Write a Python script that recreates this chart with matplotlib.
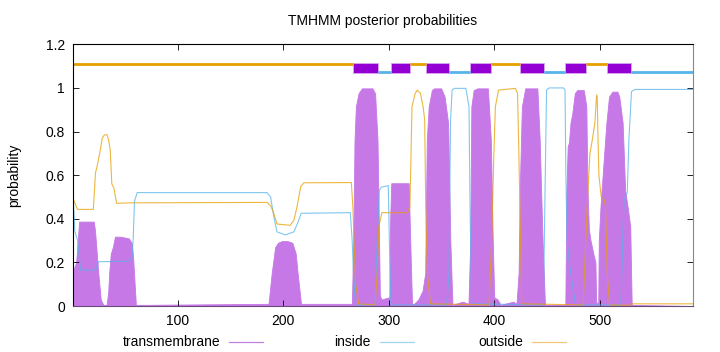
'''TMHMM posterior probabilities'''

import matplotlib
matplotlib.use('Agg')
from matplotlib.pyplot import figure
from matplotlib.lines import Line2D
from matplotlib.ticker import FuncFormatter
import numpy as np

matplotlib.rcParams['font.family'] = ['Liberation Sans', 'DejaVu Sans']
matplotlib.rcParams['font.size'] = 10

seq_length = 588

# predicted topology, residue ranges
seg_start = [1, 266, 290, 302, 320, 335, 357, 377, 397, 424, 447, 467, 487, 507, 530]
seg_end   = [266, 290, 302, 320, 335, 357, 377, 397, 424, 447, 467, 487, 507, 530, 588]
seg_kind  = ['outside', 'TM', 'inside', 'TM', 'outside', 'TM', 'inside', 'TM',
             'outside', 'TM', 'inside', 'TM', 'outside', 'TM', 'inside']

# posterior probabilities
tm_pos = [1, 3.7, 5.2, 6.5, 20.3, 21.5, 22.8, 24.7, 27, 29.5, 32.5, 34, 35, 36.5, 38.5,
          40.5, 45.7, 53.6, 56.3, 57.6, 60.3,
          186, 189, 192.3, 195, 198.9, 203.7, 208.6, 211.8, 213.6, 216.8,
          265, 266.4, 267.5, 268.8, 271.3, 274.5, 284.5, 287, 289.3, 290.5, 291.5, 293,
          300.5, 301.3, 302.3, 318.8, 320.3, 322,
          324, 328, 332, 334.5, 336, 337.8, 340.8, 343, 349.6, 352.9, 356.2, 358.3, 360.3,
          370, 375.5, 377.2, 378.2, 380.4, 384, 393.9, 396.7, 398.5, 399.9, 403, 406,
          418, 421, 423, 424.5, 426.1, 429.3, 440.8, 443, 445.7, 448,
          467.3, 468.3, 469.5, 470.7, 472.2, 473.8, 476.3, 478.5, 484.8, 487.2, 488.2, 489.6,
          491.2, 494.3, 495.8, 496.5, 498,
          498.5, 499, 500.6, 503.9, 506.2, 508.7, 511.9, 516.6, 518.4, 521.6, 524,
          526.3, 528.8, 530.2, 588]
tm_prob = [0.165, 0.2, 0.30, 0.387, 0.387, 0.35, 0.27, 0.15, 0.03, 0.005, 0.005, 0.058, 0.15, 0.24, 0.27,
           0.318, 0.318, 0.31, 0.29, 0.23, 0.005,
           0.01, 0.15, 0.27, 0.29, 0.298, 0.298, 0.29, 0.24, 0.15, 0.01,
           0.01, 0.30, 0.76, 0.914, 0.975, 0.998, 0.998, 0.975, 0.76, 0.39, 0.05, 0.03,
           0.04, 0.4, 0.563, 0.563, 0.3, 0.01,
           0.01, 0.03, 0.07, 0.15, 0.76, 0.914, 0.99, 0.998, 0.998, 0.96, 0.84, 0.3, 0.005,
           0.02, 0.01, 0.3, 0.914, 0.99, 0.998, 0.998, 0.76, 0.3, 0.04, 0.03, 0.005,
           0.02, 0.01, 0.15, 0.61, 0.914, 0.998, 0.998, 0.76, 0.3, 0.005,
           0.005, 0.52, 0.73, 0.75, 0.84, 0.88, 0.976, 0.99, 0.99, 0.914, 0.55, 0.35,
           0.3, 0.23, 0.2, 0.02, 0.005,
           0.02, 0.30, 0.455, 0.685, 0.84, 0.96, 0.983, 0.983, 0.96, 0.84, 0.53,
           0.455, 0.365, 0.005, 0.0]

inside_pos = [1, 2.5, 5.2, 7.8, 22, 25, 53.5, 56.5, 57.7, 59, 61.5,
              184.5, 188, 191, 194, 202, 210, 214, 217, 263.5, 265.3, 266.5, 268.5,
              287, 289, 291, 293, 299.5, 300.5, 302,
              355, 357, 358.5, 360, 362, 373, 376, 377, 378.5,
              446.5, 448, 449.5, 452, 465.5, 467, 467.8, 469, 471, 474, 477,
              520, 522, 523, 526, 527.5, 530, 533, 588]
inside_prob = [0.49, 0.34, 0.30, 0.165, 0.165, 0.203, 0.205, 0.22, 0.30, 0.48, 0.52,
               0.52, 0.50, 0.41, 0.34, 0.326, 0.34, 0.385, 0.425, 0.428, 0.30, 0.15, 0.005,
               0.005, 0.3, 0.53, 0.545, 0.552, 0.3, 0.005,
               0.005, 0.15, 0.85, 0.99, 0.998, 0.998, 0.914, 0.455, 0.01,
               0.005, 0.5, 0.99, 1.0, 1.0, 0.99, 0.6, 0.3, 0.2, 0.1, 0.005,
               0.005, 0.35, 0.486, 0.52, 0.76, 0.983, 0.993, 0.993]

outside_pos = [1, 5, 20, 22, 23.5, 26, 28.5, 30.5, 33, 34.5, 36, 37.5, 39.5, 42, 55,
               184.5, 188, 191, 194, 206.5, 210, 213, 216.5, 219.5, 264.5, 266, 268.5, 271.5,
               287, 289, 290.5, 293.5, 317.5, 320, 322, 325, 327, 330, 332.5, 334, 335,
               336.5, 339.5, 395, 397.5, 399.5, 401, 404, 420, 422, 423, 426,
               484.2, 488, 490.6, 492.8, 495.3, 496.9, 497.5, 498.2, 499.1, 501.3, 503.9,
               505.4, 507, 509.2, 528, 530, 588]
outside_prob = [0.49, 0.443, 0.443, 0.61, 0.64, 0.70, 0.77, 0.785, 0.785, 0.76, 0.715, 0.56, 0.54, 0.471, 0.473,
                0.475, 0.46, 0.425, 0.376, 0.37, 0.393, 0.455, 0.547, 0.565, 0.566, 0.45, 0.10, 0.01,
                0.005, 0.15, 0.364, 0.428, 0.428, 0.455, 0.914, 0.975, 0.99, 0.975, 0.914, 0.853, 0.455,
                0.15, 0.01, 0.005, 0.3, 0.685, 0.914, 0.99, 0.998, 0.975, 0.76, 0.01,
                0.005, 0.455, 0.70, 0.76, 0.84, 0.968, 0.96, 0.78, 0.6, 0.50, 0.49,
                0.455, 0.15, 0.005, 0.003, 0.01, 0.01]

c_tm_fill = '#c678e6'
c_tm_bar = '#9400d3'
c_in = '#56b4e9'
c_out = '#e69f00'

fig = figure(figsize=(7.2, 3.52), dpi=100)
ax = fig.add_axes([73.3/720, 1 - 306/352, (692.7 - 73.3)/720, (306 - 44.3)/352])

ax.fill_between(tm_pos, tm_prob, 0, color=c_tm_fill, lw=0.6)
ax.plot(inside_pos, inside_prob, color=c_in, lw=0.8, alpha=0.75)
ax.plot(outside_pos, outside_prob, color=c_out, lw=0.8, alpha=0.75)

# topology bars on top
for s, e, k in zip(seg_start, seg_end, seg_kind):
    if k == 'outside':
        ax.hlines(1.11, s, e, color=c_out, lw=2)
    elif k == 'inside':
        ax.hlines(1.071, s, e, color=c_in, lw=2)
    else:
        ax.broken_barh([(s, e - s)], (1.068, 0.047), facecolor=c_tm_bar,
                       edgecolor='#d8a8f0', lw=0.6)

ax.set_xlim(1, seq_length)
ax.set_ylim(0, 1.2)
ax.set_xticks([100, 200, 300, 400, 500])
ax.set_yticks(np.arange(0, 1.21, 0.2))
ax.yaxis.set_major_formatter(FuncFormatter(lambda v, _: '%g' % round(v, 2)))
ax.tick_params(direction='in', top=True, right=True, length=4, width=0.6,
               labelsize=10, pad=6)
for sp in ax.spines.values():
    sp.set_linewidth(0.8)
ax.spines['bottom'].set_color('#6a4a7a')
ax.spines['right'].set_color('#888888')

fig.text(383/720, 1 - 21/352, 'TMHMM posterior probabilities', ha='center', va='center', fontsize=10)
fig.text(14/720, 1 - 175/352, 'probability', ha='center', va='center', rotation=90, fontsize=10)

# key, gnuplot style: text right-justified in front of the sample
key_labels = ['transmembrane', 'inside', 'outside']
key_colors = ['#c080e0', '#a0d4ec', '#f2c878']
key_ends = [263, 414, 566]
ky = 1 - 341.5/352
for lab, col, xe in zip(key_labels, key_colors, key_ends):
    fig.add_artist(Line2D([(xe - 34)/720, xe/720], [ky, ky], color=col, lw=0.9))
    fig.text((xe - 43)/720, ky, lab, ha='right', va='center', fontsize=10)

fig.savefig('out.png', dpi=100)
